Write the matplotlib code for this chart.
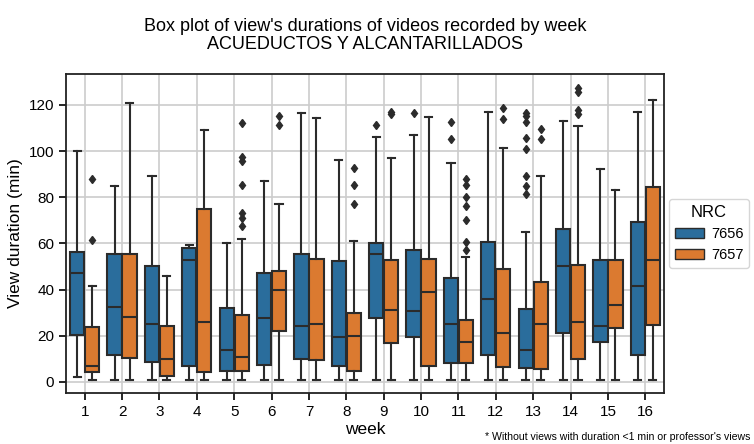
import numpy as np
import matplotlib.pyplot as plt

# ── Data: box statistics per week (minutes) ───────────────────
weeks = [str(w) for w in range(1, 17)]
groups = ['7656', '7657']

# whisker low, q1, median, q3, whisker high
stats_7656 = [
    (2, 20.5, 47, 56.3, 100),
    (1, 11.8, 32.3, 55.5, 85),
    (1, 8.7, 25.3, 50.1, 89),
    (1, 7, 52.7, 58, 59.2),
    (1, 4.8, 14, 32, 60),
    (1, 7.5, 27.7, 47, 87),
    (1, 10, 24.3, 55.5, 116.3),
    (1, 7, 19.3, 52.6, 96.3),
    (1, 27.7, 55.5, 60, 105.9),
    (1, 19.6, 30.9, 57.2, 107),
    (1, 8.2, 25, 44.9, 94.8),
    (1, 11.7, 36, 60.8, 117),
    (1, 6, 14, 31.6, 65),
    (1, 21.2, 50.1, 66.4, 113),
    (1, 17.3, 24.1, 52.7, 92.3),
    (1, 11.5, 41.7, 69.3, 117),
]
stats_7657 = [
    (1, 4.2, 7, 24, 41.7),
    (1, 10.4, 28, 55.5, 121),
    (1, 2.7, 10, 24.3, 46),
    (1, 4.2, 26, 74.8, 109),
    (1, 4.8, 10.7, 29.2, 61.8),
    (1, 22, 40, 48, 77),
    (1, 9.7, 25.3, 53.3, 114.3),
    (1, 4.9, 19.8, 30, 61.1),
    (1, 17, 31, 52.7, 96.8),
    (1, 7, 39.1, 53.4, 114.8),
    (1, 8.2, 17.2, 27, 54),
    (1, 6.3, 21.4, 49, 101.3),
    (1, 5.8, 25, 43.5, 89),
    (1, 10, 26, 50.8, 110.8),
    (1, 23.4, 33.5, 52.7, 83),
    (1, 24.8, 53, 84.6, 122),
]
fliers_7656 = [
    [], [], [], [], [], [], [], [],
    [111.2], [116.3], [112.7, 105.3], [],
    [116.7, 115, 112.5, 105.8, 101, 89, 84.8, 81.6],
    [], [], [],
]
fliers_7657 = [
    [88, 61.7], [], [], [],
    [112, 97.5, 95.6, 85.5, 73.2, 71.2, 67.5],
    [115, 111.5], [], [92.7, 85.5, 77],
    [117, 116], [], [87.7, 85.5, 80, 76.1, 70, 60.5, 57.3],
    [118.7, 114], [109.6, 105.3],
    [127.4, 125.5, 118, 116], [], [],
]

colors = ['#2a6d9c', '#db7a30']
line_c = '#2b2b2b'

plt.rcParams['font.family'] = ['Liberation Sans', 'DejaVu Sans']

fig = plt.figure(figsize=(7.54, 4.44), dpi=100)
ax = fig.add_axes([66/754, 1 - 393/444, 598/754, 319/444])

x = np.arange(len(weeks))
for g, (stats, fliers, offset) in enumerate([(stats_7656, fliers_7656, -0.2),
                                              (stats_7657, fliers_7657, 0.2)]):
    bxp_stats = []
    for (lo, q1, med, q3, hi), fl in zip(stats, fliers):
        bxp_stats.append(dict(whislo=lo, q1=q1, med=med, q3=q3, whishi=hi,
                              fliers=fl))
    ax.bxp(bxp_stats, positions=x + offset, widths=0.38, patch_artist=True,
           showfliers=True, manage_ticks=False,
           boxprops=dict(facecolor=colors[g], edgecolor=line_c, lw=1.5),
           medianprops=dict(color=line_c, lw=1.5),
           whiskerprops=dict(color=line_c, lw=1.5),
           capprops=dict(color=line_c, lw=1.5),
           flierprops=dict(marker='d', markerfacecolor=line_c,
                           markeredgecolor=line_c, markersize=4.5),
           zorder=3)

ax.set_xlim(-0.5, len(weeks) - 0.5)
ax.set_ylim(-4.8, 133.4)
ax.set_xticks(x)
ax.set_xticklabels(weeks)
ax.set_yticks(range(0, 121, 20))
ax.tick_params(labelsize=11, length=5, width=1.2)
ax.grid(True, color='#cccccc', lw=1.2, zorder=0)
ax.set_axisbelow(True)
for s in ax.spines.values():
    s.set_linewidth(1.3)
    s.set_color('#222222')

ax.set_xlabel('week', fontsize=12.5, labelpad=2)
ax.set_ylabel('View duration (min)', fontsize=12.5)
ax.set_title("Box plot of view's durations of videos recorded by week\n"
             "ACUEDUCTOS Y ALCANTARILLADOS", fontsize=13, pad=18,
             linespacing=1.1)

handles = [plt.Rectangle((0, 0), 1, 1, facecolor=c, edgecolor=line_c, lw=1)
           for c in colors]
leg = ax.legend(handles, groups, title='NRC', loc='center left',
                bbox_to_anchor=(1.008, 0.5), fontsize=10.5, title_fontsize=12,
                frameon=True, handlelength=2.0, handletextpad=0.5,
                borderpad=0.4, borderaxespad=0)

fig.text(0.995, 0.005, "* Without views with duration <1 min or professor's views",
         ha='right', va='bottom', fontsize=7.6)

plt.savefig('out.png', dpi=100)
